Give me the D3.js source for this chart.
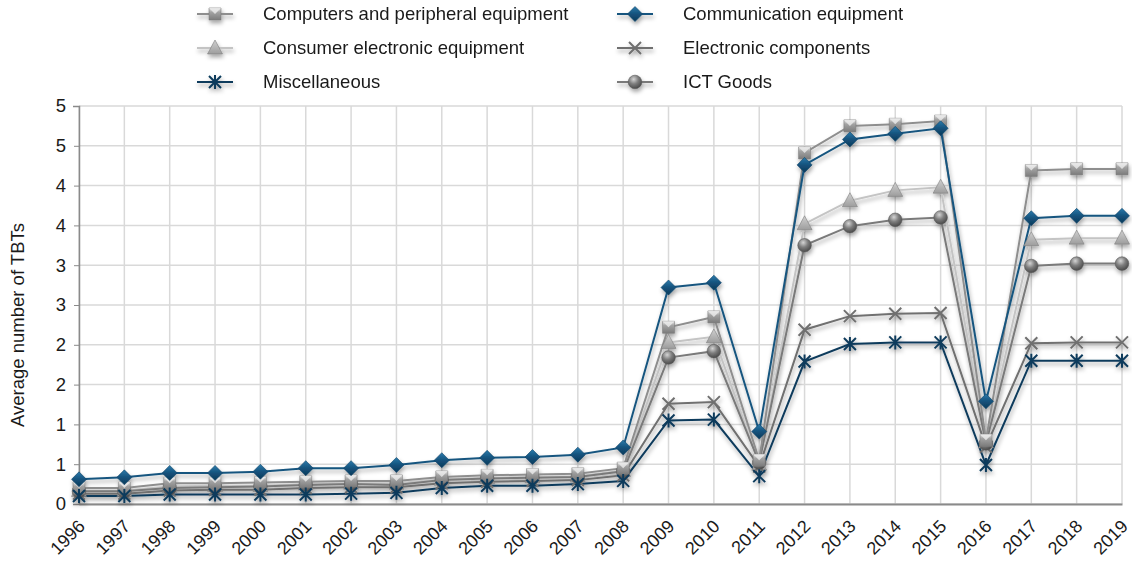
<!DOCTYPE html>
<html>
<head>
<meta charset="utf-8">
<script src="https://cdn.jsdelivr.net/npm/d3@7"></script>
<style>
  body { margin: 0; background: #fff; }
  text { font-family: "Liberation Sans", Arial, sans-serif; fill: #1a1a1a; }
</style>
</head>
<body>
<div id="chart"></div>
<script>
const years = ["1996","1997","1998","1999","2000","2001","2002","2003","2004","2005","2006","2007","2008",
               "2009","2010","2011","2012","2013","2014","2015","2016","2017","2018","2019"]

const computers  = [0.20,0.20,0.26,0.26,0.27,0.28,0.29,0.29,0.34,0.36,0.37,0.38,0.45,2.22,2.35,0.55,4.41,4.75,4.77,4.81,0.80,4.19,4.21,4.21]
const communication = [0.31,0.335,0.39,0.39,0.405,0.45,0.45,0.49,0.55,0.58,0.59,0.62,0.71,2.72,2.78,0.91,4.26,4.58,4.65,4.72,1.29,3.59,3.62,3.62]
const consumer   = [0.17,0.17,0.22,0.23,0.23,0.25,0.26,0.26,0.31,0.33,0.34,0.35,0.42,2.03,2.10,0.50,3.52,3.81,3.94,3.98,0.78,3.32,3.34,3.34]
const components = [0.13,0.13,0.17,0.18,0.18,0.20,0.21,0.21,0.26,0.28,0.29,0.30,0.36,1.26,1.28,0.47,2.19,2.36,2.39,2.40,0.72,2.02,2.03,2.03]
const misc       = [0.10,0.10,0.12,0.12,0.12,0.12,0.13,0.14,0.20,0.23,0.23,0.25,0.29,1.05,1.06,0.35,1.79,2.01,2.03,2.03,0.49,1.80,1.80,1.80]
const ictGoods   = [0.16,0.16,0.20,0.21,0.22,0.24,0.25,0.24,0.30,0.32,0.33,0.34,0.41,1.84,1.92,0.52,3.25,3.49,3.57,3.60,0.76,2.99,3.02,3.02]

const yTicks = [0,0.5,1,1.5,2,2.5,3,3.5,4,4.5,5]
const yTickLabels = ["0","1","1","2","2","3","3","4","4","5","5"]

// drawing order: back to front
const series = [
  {name: "Consumer electronic equipment", values: consumer, color: "#c4c4c4", marker: "triangle", fill: "url(#gTri)"},
  {name: "Electronic components", values: components, color: "#6f6f6f", marker: "cross", fill: "none"},
  {name: "ICT Goods", values: ictGoods, color: "#7a7a7a", marker: "circle", fill: "url(#gBall)"},
  {name: "Computers and peripheral equipment", values: computers, color: "#8e8e8e", marker: "square", fill: "url(#gSq)"},
  {name: "Miscellaneous", values: misc, color: "#0f3b5c", marker: "star", fill: "none"},
  {name: "Communication equipment", values: communication, color: "#16557f", marker: "diamond", fill: "url(#gDia)"}
]

const legendOrder = [
  ["Computers and peripheral equipment", 0, 0],
  ["Communication equipment", 1, 0],
  ["Consumer electronic equipment", 0, 1],
  ["Electronic components", 1, 1],
  ["Miscellaneous", 0, 2],
  ["ICT Goods", 1, 2]
]

const W = 1132, H = 562
const margin = {top: 106, right: 10, bottom: 58, left: 79}
const width = 1122 - margin.left
const height = 504 - margin.top

const svg = d3.select("#chart").append("svg")
  .attr("width", W).attr("height", H)

const defs = svg.append("defs")
const addLin = (id, stops) => {
  const g = defs.append("linearGradient").attr("id", id)
    .attr("x1", 0).attr("y1", 0).attr("x2", 0).attr("y2", 1)
  stops.forEach(s => g.append("stop").attr("offset", s[0]).attr("stop-color", s[1]))
}
addLin("gSq", [[0, "#e6e6e6"], [0.35, "#a3a3a3"], [1, "#7b7b7b"]])
addLin("gTri", [[0, "#d0d0d0"], [1, "#9d9d9d"]])
addLin("gDia", [[0, "#2a7aab"], [0.5, "#15527c"], [1, "#0c3a5a"]])
const rg = defs.append("radialGradient").attr("id", "gBall")
  .attr("cx", 0.4).attr("cy", 0.3).attr("r", 0.7)
rg.append("stop").attr("offset", 0).attr("stop-color", "#d4d4d4")
rg.append("stop").attr("offset", 0.5).attr("stop-color", "#7d7d7d")
rg.append("stop").attr("offset", 1).attr("stop-color", "#4a4a4a")

const shadow = defs.append("filter").attr("id", "shadow")
  .attr("x", -0.1).attr("y", -0.1).attr("width", 1.2).attr("height", 1.3)
shadow.append("feDropShadow").attr("dx", 1).attr("dy", 3).attr("stdDeviation", 2.2)
  .attr("flood-color", "#000").attr("flood-opacity", 0.35)

const g = svg.append("g").attr("transform", `translate(${margin.left},${margin.top})`)

const x = d3.scalePoint().domain(years).range([0, width])
const y = d3.scaleLinear().domain([0, 5]).range([height, 0])

// gridlines
g.append("g").selectAll("line").data(yTicks).join("line")
  .attr("x1", 0).attr("x2", width)
  .attr("y1", d => y(d)).attr("y2", d => y(d))
  .attr("stroke", "#d9d9d9").attr("stroke-width", 1.5)
g.append("g").selectAll("line").data(years).join("line")
  .attr("x1", d => x(d)).attr("x2", d => x(d))
  .attr("y1", 0).attr("y2", height)
  .attr("stroke", "#d9d9d9").attr("stroke-width", 1.5)

// axes
const yAxis = g.append("g")
  .call(d3.axisLeft(y).tickValues(yTicks).tickSize(6).tickPadding(7)
    .tickFormat((d, i) => yTickLabels[i]))
yAxis.select(".domain").attr("stroke", "#8a8a8a").attr("stroke-width", 1.5)
yAxis.selectAll(".tick line").attr("stroke", "#8a8a8a").attr("x2", -5)
yAxis.selectAll(".tick text").attr("font-size", 18.5).attr("fill", "#1a1a1a")

const xAxis = g.append("g").attr("transform", `translate(0,${height})`)
  .call(d3.axisBottom(x).tickSize(0).tickPadding(0))
xAxis.select(".domain").attr("stroke", "#8a8a8a").attr("stroke-width", 2)
xAxis.selectAll(".tick text")
  .attr("font-size", 18).attr("fill", "#1a1a1a")
  .attr("text-anchor", "end")
  .attr("dy", "0.35em")
  .attr("transform", "translate(2,19) rotate(-45)")

// y title
svg.append("text")
  .attr("transform", `translate(24,${margin.top + height / 2 + 20}) rotate(-90)`)
  .attr("text-anchor", "middle")
  .attr("font-size", 18.5)
  .text("Average number of TBTs")

// marker shapes
const markerPath = (type) => {
  switch (type) {
    case "square": return "M-6,-6H6V6H-6Z"
    case "diamond": return "M0,-7.5L7.5,0L0,7.5L-7.5,0Z"
    case "triangle": return "M0,-8L7.5,6H-7.5Z"
    case "cross": return "M-6,-6L6,6M6,-6L-6,6"
    case "star": return "M-6,-6L6,6M6,-6L-6,6M0,-7V7"
  }
  return null
}

const drawMarker = (sel, s) => {
  if (s.marker === "circle") {
    sel.append("circle").attr("r", 6.8).attr("fill", s.fill)
      .attr("stroke", "#5a5a5a").attr("stroke-width", 0.6)
  } else if (s.marker === "cross" || s.marker === "star") {
    sel.append("path").attr("d", markerPath(s.marker))
      .attr("fill", "none").attr("stroke", s.color).attr("stroke-width", 2)
  } else {
    sel.append("path").attr("d", markerPath(s.marker)).attr("fill", s.fill)
      .attr("stroke", s.marker === "diamond" ? "#0e4368" : "#7d7d7d").attr("stroke-width", 0.6)
    if (s.marker === "square") {
      sel.append("path").attr("d", "M-6,-6L0,0L6,-6Z").attr("fill", "#ececec").attr("opacity", 0.8)
    }
  }
}

const line = d3.line().x((d, i) => x(years[i])).y(d => y(d))

const plot = g.append("g").attr("filter", "url(#shadow)")

series.forEach(s => {
  plot.append("path")
    .attr("d", line(s.values))
    .attr("fill", "none")
    .attr("stroke", s.color)
    .attr("stroke-width", 2)
})

series.forEach(s => {
  plot.append("g").selectAll("g").data(s.values).join("g")
    .attr("transform", (d, i) => `translate(${x(years[i])},${y(d)})`)
    .each(function () { drawMarker(d3.select(this), s) })
})

// legend
const legend = svg.append("g").attr("filter", "url(#shadow)")
const legendText = svg.append("g")
legendOrder.forEach(([name, col, row]) => {
  const s = series.find(d => d.name === name)
  const lx = col === 0 ? 197 : 617
  const ly = 14 + row * 34
  legend.append("line").attr("x1", lx).attr("x2", lx + 36)
    .attr("y1", ly).attr("y2", ly)
    .attr("stroke", s.color).attr("stroke-width", 2)
  const m = legend.append("g").attr("transform", `translate(${lx + 18},${ly})`)
  drawMarker(m, s)
  legendText.append("text").attr("x", lx + 66).attr("y", ly).attr("dy", "0.35em")
    .attr("font-size", 18.5).text(name)
})
</script>
</body>
</html>
